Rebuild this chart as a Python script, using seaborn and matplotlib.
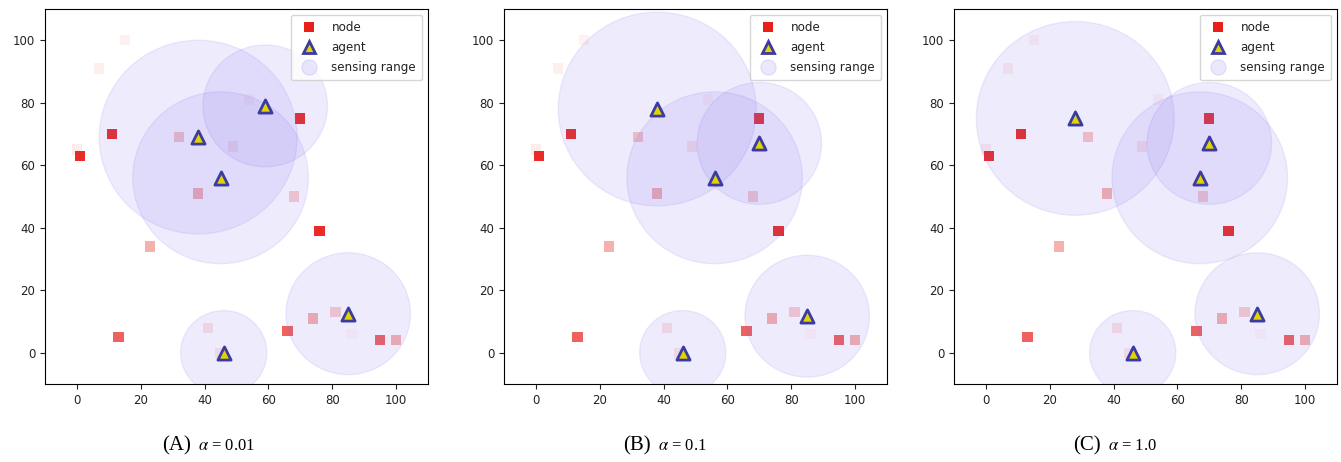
import matplotlib
matplotlib.use("Agg")
import matplotlib.pyplot as plt
import seaborn as sns
import pandas as pd
from matplotlib.patches import Circle
from matplotlib.lines import Line2D

# nodes are the same in all three runs
node_x = [1, 0, 11, 7, 15, 32, 38, 49, 54, 70, 68, 76, 23, 13, 41, 45, 66, 74, 81, 95, 100, 86]
node_y = [63, 65, 70, 91, 100, 69, 51, 66, 81, 75, 50, 39, 34, 5, 8, 0, 7, 11, 13, 4, 4, 6]
node_alpha = [0.95, 0.08, 0.95, 0.07, 0.06, 0.25, 0.35, 0.1, 0.05, 0.95, 0.22, 0.95,
              0.35, 0.7, 0.12, 0.1, 0.7, 0.35, 0.22, 0.7, 0.35, 0.04]

# sensing radius of each agent
sensing_r = [31, 27.5, 19.5, 13.5, 19.5]

# agent positions for each alpha
agent_x_a = [38, 45, 59, 46, 85]
agent_y_a = [69, 56, 79, 0, 12.5]
agent_x_b = [38, 56, 70, 46, 85]
agent_y_b = [78, 56, 67, 0, 11.7]
agent_x_c = [28, 67, 70, 46, 85]
agent_y_c = [75, 56, 67, 0, 12.5]

panel_labels = ["(A)", "(B)", "(C)"]
alpha_labels = ["0.01", "0.1", "1.0"]
ticks = [0, 20, 40, 60, 80, 100]

node_color = "#e8201a"
agent_face = "#e2d400"
agent_edge = "#3b3ba0"
range_color = "#7b68ee"

nodes = pd.DataFrame({"x": node_x, "y": node_y, "id": range(len(node_x))})
node_pal = {i: matplotlib.colors.to_rgba(node_color, a) for i, a in enumerate(node_alpha)}

agents = [(agent_x_a, agent_y_a), (agent_x_b, agent_y_b), (agent_x_c, agent_y_c)]

fig = plt.figure(figsize=(13.41, 4.62), dpi=100)
lefts = [45, 504, 954]
W, H = 1341, 462

for k in range(3):
    ax = fig.add_axes([lefts[k] / W, (H - 384) / H, 383 / W, 375 / H])
    sns.scatterplot(data=nodes, x="x", y="y", hue="id", palette=node_pal, marker="s",
                    s=55, linewidth=0, legend=False, ax=ax, zorder=1)
    ax_x, ax_y = agents[k]
    for cx, cy, r in zip(ax_x, ax_y, sensing_r):
        ax.add_patch(Circle((cx, cy), r, facecolor=range_color, edgecolor=range_color,
                            alpha=0.12, linewidth=1, zorder=2))
    sns.scatterplot(x=ax_x, y=ax_y, marker="^", s=90, color=agent_face,
                    edgecolor=agent_edge, linewidth=2, ax=ax, zorder=3, legend=False)
    ax.set_xlim(-10, 110)
    ax.set_ylim(-10, 110)
    ax.set_xticks(ticks)
    ax.set_yticks(ticks)
    ax.tick_params(labelsize=8.5, colors="#222222")
    ax.set_xlabel("")
    ax.set_ylabel("")

    handles = [
        Line2D([], [], marker="s", linestyle="none", markersize=7, color=node_color,
               markeredgewidth=0),
        Line2D([], [], marker="^", linestyle="none", markersize=9, markerfacecolor=agent_face,
               markeredgecolor=agent_edge, markeredgewidth=2),
        Line2D([], [], marker="o", linestyle="none", markersize=11,
               markerfacecolor=matplotlib.colors.to_rgba(range_color, 0.15),
               markeredgecolor=matplotlib.colors.to_rgba(range_color, 0.15)),
    ]
    ax.legend(handles, ["node", "agent", "sensing range"], loc="upper right", fontsize=8.6,
              handletextpad=0.9, labelspacing=0.6, borderpad=0.5, labelcolor="#222222")

    # caption under the panel
    c = (lefts[k] + 383 / 2 - 29) / W
    fig.text(c - 16 / W, 0.035, panel_labels[k], ha="right", va="center",
             family="Liberation Serif", fontsize=15)
    fig.text(c - 9 / W, 0.035, r"$\alpha$ = " + alpha_labels[k], ha="left", va="center",
             family="Liberation Serif", fontsize=12, math_fontfamily="stix")

fig.savefig("out.png", dpi=100)
